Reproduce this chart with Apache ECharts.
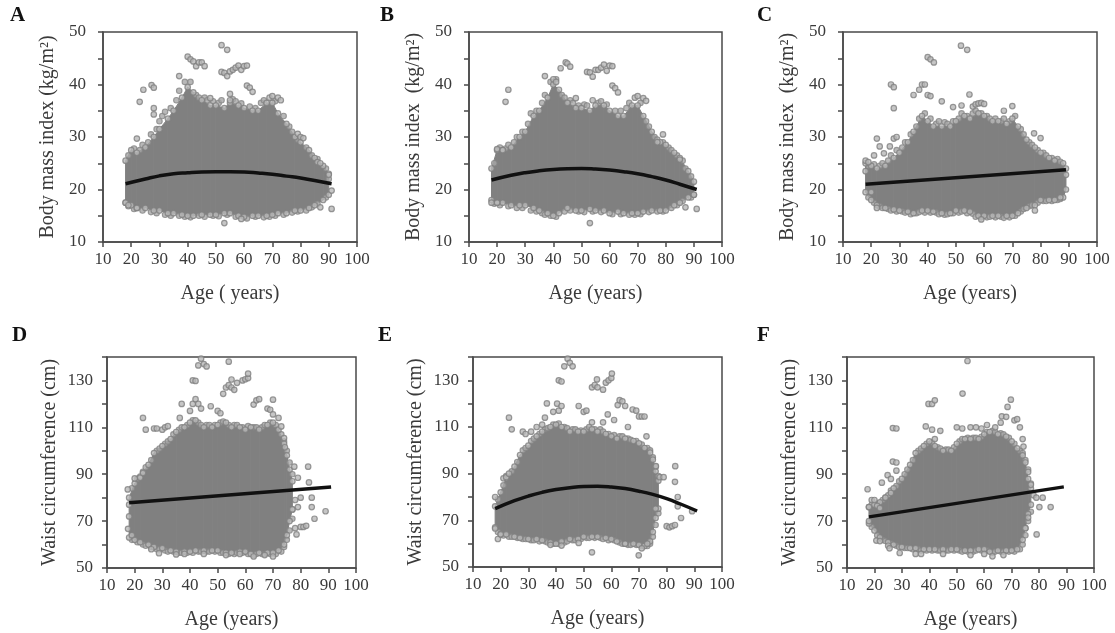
<!DOCTYPE html>
<html>
<head>
<meta charset="utf-8">
<script src="https://cdn.jsdelivr.net/npm/echarts@6/dist/echarts.min.js"></script>
<style>
html,body{margin:0;padding:0;background:#fff;}
#chart{width:1115px;height:633px;}
</style>
</head>
<body>
<div id="chart"></div>
<script>
// ---------------- DATA ----------------
const panelLetters = ['A','B','C','D','E','F'];
const xTickMin = 10, xTickMax = 100, xTickStep = 10;
const bmiName = 'Body mass index (kg/m²)';
const bmiName2 = 'Body mass index  (kg/m²)';
const waistName = 'Waist circumference (cm)';
const ageNameA = 'Age ( years)';
const ageName = 'Age (years)';

// Cloud envelopes (upper / lower edge of the dense point cloud)
const envAgeABC = [18,20,22,25,28,30,33,35,38,40,42,45,48,50,53,55,58,60,63,65,68,70,72,75,78,80,83,85,88,90];
const envAgeC   = [18,20,22,25,28,30,33,35,38,40,42,45,48,50,53,55,58,60,63,65,68,70,72,75,78,80,83,85,88,89];
const upperA = [25.5,27.5,27,28,30,31.5,33.5,35,37.5,39.5,38.5,37,36,36,35.5,36.5,36,35.5,35,35,36.5,36.5,34.5,32.5,30,29,27.5,26,24.5,23];
const lowerA = [17.5,17,16.5,16.5,16,16,15.5,15.5,15.2,15,15,15.2,15.2,15.2,15.5,15.5,15,14.8,15,15,15,15.2,15.5,15.5,16,16,16.5,17,18,19];
const upperB = [24,27.5,27.5,28,30,31,34,35,37.5,40,39,36.5,35.5,35.5,35,36,36,35,34,34,36,36,34,31,29,28.5,27,26,23.5,21.5];
const lowerB = [18,17.5,17.5,17,17,17,16.5,16,15.5,15,15.5,16.5,16,16,16.3,16,16,15.5,15.8,15.5,15.5,15.5,15.8,16,16,16,17,17.5,18.5,19];
const upperC = [25,24.5,24,24.5,26,27,29,31,34,33,32,32,32,33,34,33.5,34.5,34,33,33,32.5,33.5,32,29.5,28,27,26,25.5,25,24];
const lowerC = [19.5,18,17,16.5,16.2,16,15.8,15.5,16,16,15.8,15.5,15.5,16,16,15.8,15,15,15,15,15,15,15.5,16.5,17,18,18,18,18.5,20];

const envAgeDEF = [18,20,22,25,27,30,33,35,38,40,42,45,48,50,53,55,58,60,62,65,68,70,72,74,75,76,77];
const upperD = [80,86,89,94,99,102,105,108,110,112,113,110,110,111,112,110,110,109,110,109,111,112,109,103,98,92,87];
const lowerD = [63,62,61,60,59,58.5,57.5,57,57,57,57.5,57.5,57.5,57.5,56.5,56.5,57,57,56,56.5,56.5,56.5,57.5,60,64,70,75];
const upperE = [76,82,88,93,98,102,106,108,110,111,110,108,108,108,109,108,107,106,105,105,104,103,101,99,96,91,87];
const lowerE = [67,64,64,63,62.5,62,62,61.5,60.5,60,61,62,62,63,63,63,62.5,62,61,60,60,59.5,59,61,65,71,75];
const upperF = [76,77,78,81,84,88,94,99,102,104,102,100,100,103,105,105,105,107,108,107,106,104,101,98,95,88,84];
const lowerF = [69,66,63,61,60,59,58.5,58.5,58,58,58,58,58,58,57.5,57.5,58,58,57,57.5,57.5,57.5,58,62,67,73,77];

// Fringe circles along the cloud edges
const fringeA = [[19,26.5],[21,27.8],[23,27.5],[24,28.5],[26,29],[27,30.5],[29,31.5],[30,33],[31,34],[32,34.8],[34,35.5],[36,37],[37,38.8],[39,40.5],[41,40.5],[43,38],[44,37.5],[46,37.5],[47,37],[49,36.8],[51,36.5],[52,37],[56,37.2],[57,36.8],[59,36.4],[62,35.8],[64,35.5],[66,36.5],[67,37],[71,36.8],[74,34],[76,32],[77,31],[79,29.5],[82,28],[84,26.5],[86,25.8],[89,24],[90,22],
  [19,16.8],[21,16.3],[24,16],[27,15.7],[29,15.5],[32,15.2],[34,15],[37,15],[39,14.8],[41,14.7],[44,15],[46,14.8],[49,15],[51,14.9],[54,15.2],[57,14.8],[61,14.5],[64,14.8],[67,14.7],[69,14.8],[71,15],[74,15.2],[77,15.6],[79,15.8],[82,16],[84,16.6],[86,17.3],[89,18.5]];
const fringeB = [[19,25],[21,28],[23,27.8],[24,28.5],[26,29],[27,30],[29,31],[31,32.5],[32,34.5],[34,35],[36,36.5],[37,38],[39,40.5],[41,41],[43,38],[44,37.5],[46,37],[47,36.5],[49,36],[51,36.2],[52,36],[56,36.5],[57,36.8],[59,36.2],[62,35],[64,35],[66,35.5],[67,36.5],[71,36.5],[73,33],[74,32],[76,30],[77,29.5],[79,29],[81,28],[82,27.5],[84,26.5],[86,25.5],[87,24],[89,22.5],
  [19,17.3],[21,17],[24,16.8],[27,16.5],[29,16.5],[32,16],[34,15.8],[36,15.5],[37,15.2],[39,15],[41,14.8],[44,15.8],[46,16],[49,15.8],[51,15.7],[54,15.8],[57,15.7],[61,15.3],[64,15.3],[67,15.2],[69,15.2],[71,15.3],[74,15.7],[77,15.8],[79,15.8],[82,16.5],[84,17],[86,17.8],[89,18.5]];
const fringeC = [[19,24.5],[21,24.8],[23,24.5],[24,25],[26,25.5],[27,26.5],[29,27.5],[31,28],[32,29],[34,30.5],[36,32],[37,33.5],[39,34.5],[41,33.5],[43,32.5],[44,33],[46,32.8],[47,32.5],[49,33],[51,33.5],[52,34.5],[54,34],[56,34.5],[57,35],[59,34.5],[61,34],[62,33.5],[64,33.5],[66,33],[67,33.5],[69,33],[71,34],[73,31.5],[74,30.5],[76,29],[77,28.5],[79,27.5],[81,27],[82,26.5],[84,26],[86,25.8],[87,25.3],
  [19,18.5],[21,17.5],[23,16.8],[24,16.5],[26,16.3],[27,16],[29,15.8],[31,15.8],[32,15.6],[34,15.3],[36,15.5],[37,15.7],[39,15.6],[41,15.6],[43,15.6],[44,15.3],[46,15.2],[47,15.3],[49,15.5],[51,15.6],[52,15.8],[54,15.5],[56,15.4],[57,14.8],[59,14.7],[61,14.7],[62,14.8],[64,14.7],[66,14.8],[67,14.6],[69,14.7],[71,15],[73,15.8],[74,16.3],[76,16.8],[77,17],[79,17.5],[81,17.8],[82,17.8],[84,17.8],[86,18],[87,18.2]];
const fringeD = [[19,84],[21,88],[23,91],[24,93],[26,96],[28,100],[29,101],[31,103],[32,104],[34,107],[36,109],[37,110],[39,111],[41,113],[43,112],[44,111],[46,111],[47,111],[49,111],[51,112],[52,112.5],[54,111],[56,111],[57,111],[59,110],[61,110.5],[63,110],[64,110],[66,110],[67,111],[69,112],[71,111],[73,107],[74,104],[75,100],[76,95],[77,90],
  [19,62],[21,61],[23,60],[24,59.5],[26,59],[28,58],[29,58],[31,57.5],[32,57],[34,57],[36,56.5],[37,56.5],[39,56.5],[41,56.5],[43,57],[44,57],[46,57],[47,57],[49,57],[51,56.5],[52,56.5],[54,56],[56,56],[57,56.5],[59,56.5],[61,56],[63,55.5],[64,56],[66,56],[67,56],[69,56],[71,56],[73,57],[74,59],[75,62],[76,66],[77,71]];
const fringeE = [[19,79],[21,85],[22,89],[24,91],[26,95],[28,100],[29,101],[31,104],[32,105],[34,107],[36,109],[37,109.5],[39,111],[41,111.5],[43,110],[44,109.5],[46,109],[47,109],[49,108.5],[51,109],[52,110],[54,109],[56,109],[57,108],[59,107],[61,106.5],[63,106],[64,106],[66,105],[67,104.5],[69,104],[71,102.5],[73,101],[74,100],[75,97],[76,93],[77,89],
  [19,65],[21,63.5],[23,63],[24,63],[26,62.5],[28,62],[29,62],[31,61.5],[32,61.5],[34,61],[36,61],[37,60.5],[39,60],[41,60],[43,60.5],[44,61],[46,61.5],[47,61.5],[49,62],[51,62.5],[52,62.5],[54,62.5],[56,62.5],[57,62],[59,61.5],[61,61.5],[63,60.5],[64,60],[66,59.5],[67,59.5],[69,59.5],[71,59],[73,59],[74,60],[75,63],[76,68],[77,73]];
const fringeF = [[19,77],[21,77.5],[23,79],[24,80],[26,83],[28,85],[29,87],[31,90],[32,92],[34,96],[36,100],[37,101],[39,103],[41,103.5],[43,101.5],[44,101],[46,100.5],[47,100.5],[49,101.5],[51,104],[52,105],[54,105.5],[56,105.5],[57,105.5],[59,106],[61,108],[63,108.5],[64,108],[66,107.5],[67,107],[69,105.5],[71,103],[73,100],[74,99],[75,96],[76,92],[77,86],
  [19,67.5],[21,64],[23,62],[24,61.5],[26,60.5],[28,59.5],[29,59],[31,58.5],[32,58.5],[34,58],[36,58],[37,57.5],[39,57.5],[41,57.5],[43,57.5],[44,57.5],[46,57.5],[47,57.5],[49,57.5],[51,57.5],[52,57],[54,57],[56,57],[57,57.5],[59,57.5],[61,57.5],[63,56.5],[64,57],[66,57],[67,57],[69,57],[71,57],[73,58],[74,60],[75,64],[76,70],[77,74]];

// Scattered individual points outside the dense cloud
const outA = [[23,36.7],[24.3,39],[27.2,39.9],[28,39.4],[28,35.5],[28,34.3],[22,29.7],[40,45.3],[41,44.8],[42,44.4],[43,43.5],[44,44.2],[45,44.2],[46,43.5],[52,47.5],[54,46.6],[52,42.4],[53,42.2],[54,41.6],[55,42.5],[56,42.8],[57,43.2],[58,43.6],[59,42.8],[60,43.5],[61,43.6],[61,39.8],[62,39.4],[63,38.6],[55,38.2],[48,37.4],[37,41.6],[55,37],[79,30.6],[80,30],[81,29.8],[86,25.2],[87,25],[90,22.8],[91,19.8],[91,16.3],[53,13.6],[87,16.6],[18,17.5],[19,17],[22,16.5],[69,37.5],[70,37.8],[72,37.5],[73,37],[59,14.4]];
const outB = [[23,36.7],[24,39],[37,41.6],[42.6,43.1],[44.4,44.2],[45,44],[46,43.4],[52,42.4],[53,42.3],[54,41.5],[55,42.8],[56,42.8],[57,43.2],[58,43.8],[59,42.6],[60,43.6],[61,43.5],[61,39.8],[62,39.3],[63,38.5],[54,37],[48,37.4],[69,37.5],[70,37.8],[72,37.4],[73,36.9],[79,30.5],[77,29],[85,25.7],[90,19],[91,16.3],[87,16.6],[53,13.6],[20,17.5],[20,27.7],[22,27.5],[18,17.5],[40,41],[41,40.5]];
const outC = [[27,40],[28,39.5],[28,35.5],[22,29.7],[26.6,28.2],[28,29.7],[29,30],[40,45.2],[41,44.8],[42.2,44.2],[51.8,47.4],[54,46.6],[54.8,38.1],[38,40],[39,40],[40,38],[41,37.8],[37,39],[35,38],[45,36.8],[49,35.7],[52,36],[56,35.8],[57,36.2],[58,36.4],[59,36.5],[60,36.3],[70,35.9],[67,35],[77.7,30.7],[80,29.8],[78,16],[59,14.3],[87,18.5],[89,22.8],[18,25.5],[19,25.2],[20,19.5],[22,16.5],[18,23.5],[23,28.2],[24.5,26.9],[21,26.5]];
const outD = [[23,114],[24,109],[27,109.5],[28,109.5],[30,109],[31,110],[32,110.5],[36.3,114],[37,120],[40,117],[41,120],[42,122],[43,120],[44,118],[47.5,119],[50,117],[51,116],[41,130],[42,129.8],[43,136.4],[44,139.3],[45,137],[46,136],[54,138],[52,124.3],[53,127],[54,128],[55,127],[55,130.4],[56,126],[57,129],[59,130],[60,130.5],[61,131],[61,132.9],[63,119.7],[64,121.5],[65,122],[70,121.8],[68,118],[69,117.5],[70,115.5],[72,114],[73,110.4],[74,105.4],[74.3,101.5],[77.7,93.2],[79,88.5],[82.7,93.2],[83,86.5],[80,80],[84,80],[84,76],[79,76],[85,71],[89,74.2],[78,67],[78.5,64.3],[80,67.5],[81,67.5],[82,68],[78,79],[77,75],[26,58],[28.8,56.3],[35,55.8],[38,56],[45,56],[53,55.5],[58,56],[63,54.9],[67,55.5],[70,54.9],[17.5,83.5],[18,77],[18,72],[17.6,66.7],[19,64],[20,88.2],[22,88.5],[23,90.5]];
const outE = [[18,80],[18,66.5],[19,62],[20,64],[23,114],[24,109],[21,88],[22,88.5],[23,90],[28,108],[29,107],[31,108],[33,110],[35,111],[36.7,120.1],[40.4,120],[41,117],[42,119],[39,116.5],[36,114],[41,130],[42,129.5],[43,136],[44.2,139.3],[45,137.5],[46,136],[48.2,119],[50,116.5],[51,117],[53,127],[54,128],[55,127],[54.8,130.4],[57,126],[58,129],[59,130],[60,131],[60.2,132.9],[53,112],[57,112],[58.7,115.4],[61,113],[62.3,119.4],[63,121.5],[64,121],[65,119],[66,110],[67.7,117.5],[69,117],[70,114.5],[71,114.5],[72,114.5],[72.7,106],[76.1,93.2],[77.5,88.5],[78.9,88.5],[80,67.5],[81,67],[82,67.5],[83,68],[83.1,93.2],[83,86.5],[84,80],[84,76],[85.2,71],[89.2,73.9],[76,75],[48.2,60.3],[53,56.3],[69.9,55],[71,58],[38,59.5],[42,59.2],[65,60],[73,60]];
const outF = [[17.5,83.6],[18,76],[18,70],[19,79],[20,79],[21,76.5],[22,75.5],[22.7,86.4],[24.8,89.6],[26,88],[26,82],[26.7,95.4],[28,95],[26.7,109.7],[28,109.5],[28,91.5],[24,80],[20.7,61.7],[22,61.5],[25,59.5],[25.5,58.4],[29.2,56.4],[35,56],[37,56],[45,56],[55,55.5],[60,56],[63,55],[67,55.5],[39.7,120],[41,120],[42,121.5],[52.1,124.4],[53.9,138.3],[38.7,110.4],[41,109],[44,108.5],[42,105],[50,110],[52,109.5],[55,110],[57,110],[59,109.5],[61,111],[64,110],[66,112],[66.4,114.7],[68,114.5],[68.5,118.7],[69.7,121.8],[71,113],[72,113.5],[73,110],[74,105],[74.3,101.8],[76,91],[77,85.5],[78,81],[79,80],[80.1,76],[81.3,80],[84.2,76],[79.1,64.3],[75,67],[76,71.5]];

// Fitted curves
const fitAgeCurve = [18,25,30,35,40,45,50,55,60,65,70,75,80,85,91];
const fitA = [21.1,22.0,22.6,23.0,23.2,23.35,23.4,23.4,23.35,23.15,22.9,22.55,22.2,21.7,21.1];
const fitB = [21.8,22.7,23.2,23.55,23.8,23.95,24.0,23.9,23.7,23.4,23.0,22.45,21.8,21.0,20.0];
const fitE = [75.0,78.4,80.4,82.0,83.2,84.0,84.5,84.6,84.3,83.6,82.5,81.1,79.3,77.0,74.0];
const fitAgeC = [18,89]; const fitC = [21.0,23.75];
const fitAgeD = [18,91]; const fitD = [77.8,84.5];
const fitAgeF = [18,89]; const fitF = [71.8,84.6];

// ---------------- LAYOUT ----------------
const FONT = "'Liberation Serif', 'Times New Roman', serif";
const AX = '#4a4a4a';
const TXT = '#3a3a3a';
const CLOUD = '#808080';

const panels = [
  {env:envAgeABC, up:upperA, lo:lowerA, fr:fringeA, out:outA, fx:fitAgeCurve, fy:fitA, smooth:true,
   grid:{left:103, top:32, width:254, height:210}, ymin:10, ymax:50, ystep:5, ylab:10,
   yname:bmiName, xname:ageNameA, title:{left:10, top:5}, ygap:45, ymargin:17},
  {env:envAgeABC, up:upperB, lo:lowerB, fr:fringeB, out:outB, fx:fitAgeCurve, fy:fitB, smooth:true,
   grid:{left:469, top:32, width:253, height:210}, ymin:10, ymax:50, ystep:5, ylab:10,
   yname:bmiName2, xname:ageName, title:{left:380, top:5}, ygap:45, ymargin:17},
  {env:envAgeC, up:upperC, lo:lowerC, fr:fringeC, out:outC, fx:fitAgeC, fy:fitC, smooth:false,
   grid:{left:843, top:32, width:254, height:210}, ymin:10, ymax:50, ystep:5, ylab:10,
   yname:bmiName2, xname:ageName, title:{left:757, top:5}, ygap:45, ymargin:17},
  {env:envAgeDEF, up:upperD, lo:lowerD, fr:fringeD, out:outD, fx:fitAgeD, fy:fitD, smooth:false,
   grid:{left:107, top:357, width:249, height:211}, ymin:50, ymax:140, ystep:10, ylab:20,
   yname:waistName, xname:ageName, title:{left:12, top:325}, ygap:47, ymargin:14},
  {env:envAgeDEF, up:upperE, lo:lowerE, fr:fringeE, out:outE, fx:fitAgeCurve, fy:fitE, smooth:true,
   grid:{left:473, top:357, width:249, height:210}, ymin:50, ymax:140, ystep:10, ylab:20,
   yname:waistName, xname:ageName, title:{left:378, top:325}, ygap:47, ymargin:14},
  {env:envAgeDEF, up:upperF, lo:lowerF, fr:fringeF, out:outF, fx:fitAgeF, fy:fitF, smooth:false,
   grid:{left:847, top:357, width:247, height:211}, ymin:50, ymax:140, ystep:10, ylab:20,
   yname:waistName, xname:ageName, title:{left:757, top:325}, ygap:47, ymargin:14}
];

// band piece between envelope point k and k+1, positioned through the axes
function renderBand(params, api) {
  const k = params.dataIndexInside;
  if (k >= params.dataInsideLength - 1) return null;
  const a0 = api.value(0, k), u0 = api.value(1, k), l0 = api.value(2, k);
  const a1 = api.value(0, k + 1), u1 = api.value(1, k + 1), l1 = api.value(2, k + 1);
  const pts = [api.coord([a0, u0]), api.coord([a1, u1]), api.coord([a1, l1]), api.coord([a0, l0])];
  return {type:'polygon', shape:{points:pts}, style:{fill:CLOUD, stroke:CLOUD, lineWidth:1}};
}

const grids = [], xAxes = [], yAxes = [], series = [], titles = [];
panels.forEach((p, i) => {
  grids.push(Object.assign({show:true, borderColor:AX, borderWidth:1.5, backgroundColor:'transparent', containLabel:false}, p.grid));
  titles.push({text:panelLetters[i], left:p.title.left, top:p.title.top, padding:0,
    textStyle:{fontFamily:FONT, fontSize:21, fontWeight:'bold', color:'#111'}});
  xAxes.push({gridIndex:i, type:'value', min:xTickMin, max:xTickMax, interval:xTickStep,
    axisLine:{show:true, onZero:false, lineStyle:{color:AX, width:1.5}},
    axisTick:{show:true, inside:false, length:5, lineStyle:{color:AX, width:1.5}},
    splitLine:{show:false},
    axisLabel:{color:TXT, fontFamily:FONT, fontSize:17, margin:9},
    name:p.xname, nameLocation:'middle', nameGap:42,
    nameTextStyle:{fontFamily:FONT, fontSize:20, color:TXT}});
  const ymin = p.ymin, ylab = p.ylab;
  yAxes.push({gridIndex:i, type:'value', min:p.ymin, max:p.ymax, interval:p.ystep,
    axisLine:{show:true, onZero:false, lineStyle:{color:AX, width:1.5}},
    axisTick:{show:true, inside:false, length:5, lineStyle:{color:AX, width:1.5}},
    splitLine:{show:false},
    axisLabel:{color:TXT, fontFamily:FONT, fontSize:17, margin:p.ymargin,
      formatter: v => (Math.round(v - ymin) % ylab === 0 ? String(v) : '')},
    name:p.yname, nameLocation:'middle', nameGap:p.ygap,
    nameTextStyle:{fontFamily:FONT, fontSize:20, color:TXT}});

  // dense cloud: band between lower and upper envelope
  series.push({type:'custom', xAxisIndex:i, yAxisIndex:i, silent:true, z:1,
    renderItem:renderBand, dimensions:['age','upper','lower'], encode:{x:0, y:[1,2]},
    data:p.env.map((a, k) => [a, p.up[k], p.lo[k]])});
  // fringe circles along the cloud edges
  series.push({type:'scatter', xAxisIndex:i, yAxisIndex:i, silent:true, z:2,
    symbol:'circle', symbolSize:5.5,
    itemStyle:{color:'#a6a6a6', borderColor:'#858585', borderWidth:1.1},
    data:p.fr});
  // circles at the envelope vertices and the scattered individual points
  const edgePts = p.env.map((a, k) => [a, p.up[k]]).concat(p.env.map((a, k) => [a, p.lo[k]]));
  series.push({type:'scatter', xAxisIndex:i, yAxisIndex:i, silent:true, z:2,
    symbol:'circle', symbolSize:5.5,
    itemStyle:{color:'#b8b8b8', borderColor:'#808080', borderWidth:1.2},
    data:edgePts.concat(p.out)});
  // fitted curve
  series.push({type:'line', xAxisIndex:i, yAxisIndex:i, silent:true, z:3,
    symbol:'none', smooth:p.smooth, lineStyle:{color:'#111', width:3.5},
    data:p.fx.map((a, k) => [a, p.fy[k]])});
});

const chart = echarts.init(document.getElementById('chart'), null, {renderer:'canvas'});
chart.setOption({
  animation:false,
  backgroundColor:'#fff',
  title:titles,
  grid:grids,
  xAxis:xAxes,
  yAxis:yAxes,
  series:series
});
</script>
</body>
</html>
